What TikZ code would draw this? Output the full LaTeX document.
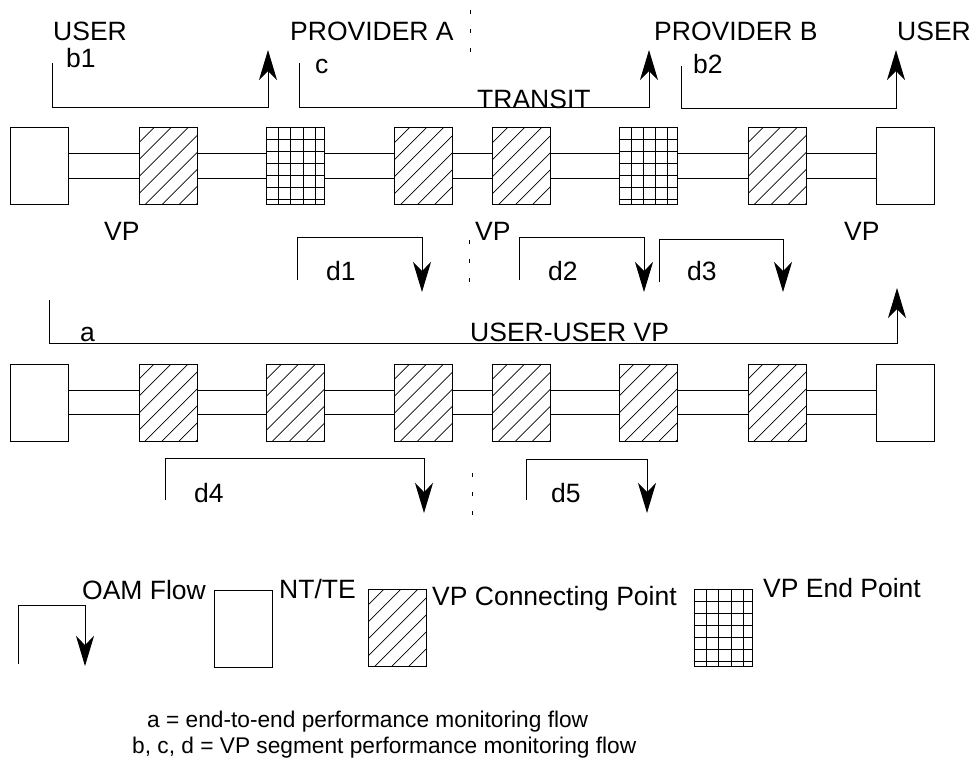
\documentclass[tikz,border=0pt]{standalone}
\usepackage{fontspec}
\setmainfont{Liberation Sans}
\usetikzlibrary{arrows.meta,calc}
\begin{document}
\begin{tikzpicture}[x=1pt,y=-1pt,
  lbl/.style={anchor=base west, inner sep=0pt, font=\fontsize{26.5}{30}\selectfont},
  note/.style={anchor=base west, inner sep=0pt, font=\fontsize{22.7}{25}\selectfont},
  unit/.style={draw, line width=0.9pt, minimum width=58pt, minimum height=77pt, inner sep=0pt},
  ntte/.style={unit},
  hatchbox/.style={unit, path picture={
     \foreach \k in {0,...,8}{\draw[line width=0.7pt] ($(path picture bounding box.south west)+(\k*17-62,0)$) -- ++(110,-110);}}},
  gridbox/.style={unit, path picture={
     \foreach \k in {1,...,4}{\draw[line width=0.9pt] ($(path picture bounding box.north west)+(\k*12.2,0)$) -- ++(0,80);}
     \foreach \k in {1,...,6}{\draw[line width=0.9pt] ($(path picture bounding box.north west)+(0,\k*12)$) -- ++(60,0);}}},
  link/.style={line width=0.9pt},
  flow/.style={line width=1pt, -{Stealth[length=30pt,width=18pt,inset=9pt]}},
  sep/.style={line width=0.9pt, dash pattern=on 4pt off 15pt}
]
\useasboundingbox (0,0) rectangle (972,761);
\fill[white] (0,0) rectangle (972,761);

% ---------- top row ----------
\node[ntte]     (t1) at (39.5,166) {};
\node[hatchbox] (t2) at (168,166) {};
\node[gridbox]  (t3) at (295.5,166) {};
\node[hatchbox] (t4) at (423.5,166) {};
\node[hatchbox] (t5) at (521.5,166) {};
\node[gridbox]  (t6) at (648,166) {};
\node[hatchbox] (t7) at (777,166) {};
\node[ntte]     (t8) at (905.5,166) {};
\foreach \i/\j in {1/2,2/3,3/4,4/5,5/6,6/7,7/8}{
  \draw[link] ($(t\i.east)+(0,-12.5)$) -- ($(t\j.west)+(0,-12.5)$);
  \draw[link] ($(t\i.east)+(0,12.5)$) -- ($(t\j.west)+(0,12.5)$);
}

% ---------- bottom row ----------
\node[ntte]     (r1) at (39.5,402.5) {};
\node[hatchbox] (r2) at (168,402.5) {};
\node[hatchbox] (r3) at (295.5,402.5) {};
\node[hatchbox] (r4) at (423.5,402.5) {};
\node[hatchbox] (r5) at (521.5,402.5) {};
\node[hatchbox] (r6) at (648,402.5) {};
\node[hatchbox] (r7) at (777,402.5) {};
\node[ntte]     (r8) at (905.5,402.5) {};
\foreach \i/\j in {1/2,2/3,3/4,4/5,5/6,6/7,7/8}{
  \draw[link] ($(r\i.east)+(0,-12.5)$) -- ($(r\j.west)+(0,-12.5)$);
  \draw[link] ($(r\i.east)+(0,12)$) -- ($(r\j.west)+(0,12)$);
}

% ---------- separators ----------
\coordinate (s1a) at (470,10);  \coordinate (s1b) at (470,52);
\coordinate (s2a) at (469,240); \coordinate (s2b) at (469,282);
\coordinate (s3a) at (472,473); \coordinate (s3b) at (472,517);
\draw[sep] (s1a) -- (s1b);
\draw[sep] (s2a) -- (s2b);
\draw[sep] (s3a) -- (s3b);

% ---------- OAM flows ----------
\coordinate (b1s) at (52,63);   \coordinate (b1e) at (268,50);
\draw[flow] (b1s) -- (52,107) -| (b1e);
\coordinate (cs) at (299,63);   \coordinate (ce) at (649,50);
\draw[flow] (cs) -- (299,107) -| (ce);
\coordinate (b2s) at (681,66);  \coordinate (b2e) at (896,50);
\draw[flow] (b2s) -- (681,108) -| (b2e);

\coordinate (d1s) at (297,280); \coordinate (d1e) at (422,292);
\draw[flow] (d1s) -- (297,237) -| (d1e);
\coordinate (d2s) at (519,280); \coordinate (d2e) at (644,292);
\draw[flow] (d2s) -- (519,237) -| (d2e);
\coordinate (d3s) at (659,282); \coordinate (d3e) at (783,292);
\draw[flow] (d3s) -- (659,239) -| (d3e);

\coordinate (as) at (49,300);   \coordinate (ae) at (897,288);
\draw[flow] (as) -- (49,343) -| (ae);

\coordinate (d4s) at (165,500); \coordinate (d4e) at (424,513);
\draw[flow] (d4s) -- (165,458) -| (d4e);
\coordinate (d5s) at (526,500); \coordinate (d5e) at (647,513);
\draw[flow] (d5s) -- (526,459) -| (d5e);

% ---------- labels ----------
\node[lbl] (lu1) at (53,40) {USER};
\node[lbl] (lb1) at (66,67) {b1};
\node[lbl] (lpa) at (290,40) {PROVIDER A};
\node[lbl] (lc)  at (315,73) {c};
\node[lbl] (lpb) at (654,40) {PROVIDER B};
\node[lbl] (lu2) at (897,40) {USER};
\node[lbl] (lb2) at (693,73) {b2};
\node[lbl] (ltr) at (477,108) {TRANSIT};
\node[lbl] (lv1) at (104,240) {VP};
\node[lbl] (lv2) at (475,240) {VP};
\node[lbl] (lv3) at (844,240) {VP};
\node[lbl] (ld1) at (326,280) {d1};
\node[lbl] (ld2) at (548,280) {d2};
\node[lbl] (ld3) at (687,280) {d3};
\node[lbl] (la)  at (80,341) {a};
\node[lbl] (luu) at (470,341) {USER-USER VP};
\node[lbl] (ld4) at (194,502) {d4};
\node[lbl] (ld5) at (551,502) {d5};

% ---------- legend ----------
\coordinate (ls) at (18,664); \coordinate (le) at (85,666);
\draw[flow] (ls) -- (18,605) -| (le);
\node[lbl] (loam) at (82,599) {OAM Flow};
\node[ntte]     (k1) at (243.5,628.5) {};
\node[lbl] (lnt) at (279,598) {NT/TE};
\node[hatchbox] (k2) at (397.5,628) {};
\node[lbl] (lcp) at (432,605) {VP Connecting Point};
\node[gridbox]  (k3) at (723.5,628) {};
\node[lbl] (lep) at (763,597) {VP End Point};

\node[note] (n1) at (147,727) {a = end-to-end performance monitoring flow};
\node[note] (n2) at (132,753) {b, c, d = VP segment performance monitoring flow};
\end{tikzpicture}
\end{document}
